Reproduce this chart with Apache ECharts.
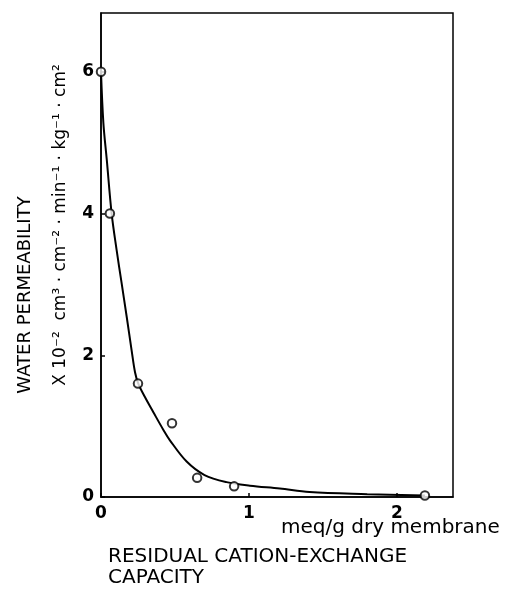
<!DOCTYPE html>
<html><head><meta charset="utf-8">
<script src="https://cdn.jsdelivr.net/npm/echarts@6/dist/echarts.min.js"></script>
<style>html,body{margin:0;padding:0;background:#fff}#c{width:510px;height:594px}</style>
</head><body><div id="c"></div>
<script>
// measured points (residual cation-exchange capacity, water permeability x10^-2)
const pointsX = [0, 0.06, 0.25, 0.48, 0.65, 0.90, 2.19];
const pointsY = [6.0, 4.0, 1.6, 1.04, 0.27, 0.15, 0.02];
// fitted curve
const curveX = [0, 0.016, 0.039, 0.072, 0.106, 0.140, 0.174, 0.207, 0.23, 0.252, 0.297, 0.353, 0.421, 0.466, 0.579, 0.70, 0.849, 1.007, 1.209, 1.41, 1.80, 2.19];
const curveY = [6.0, 5.28, 4.76, 4.00, 3.48, 3.01, 2.54, 2.07, 1.76, 1.60, 1.41, 1.20, 0.95, 0.80, 0.50, 0.31, 0.21, 0.16, 0.12, 0.07, 0.04, 0.02];
const xTicks = [0, 1, 2];
const yTicks = [0, 2, 4, 6];

const chart = echarts.init(document.getElementById('c'));
const font = 'DejaVu Sans';
chart.setOption({
  animation: false,
  backgroundColor: '#fff',
  grid: { left: 101, right: 57, top: 13, bottom: 97, show: true, borderColor: '#000', borderWidth: 1.5, backgroundColor: 'transparent' },
  xAxis: {
    type: 'value', min: 0, max: 2.38, interval: 1,
    axisLine: { lineStyle: { color: '#000', width: 1.5 } },
    axisTick: { inside: true, length: 4, lineStyle: { color: '#000', width: 1.5 } },
    splitLine: { show: false },
    axisLabel: { showMaxLabel: false, margin: 8, color: '#000', fontFamily: font, fontSize: 17, fontWeight: 'bold',
      formatter: v => xTicks.includes(v) ? String(v) : '' }
  },
  yAxis: {
    type: 'value', min: 0, max: 6.83, interval: 2,
    axisLine: { lineStyle: { color: '#000', width: 1.5 } },
    axisTick: { inside: true, length: 4, lineStyle: { color: '#000', width: 1.5 } },
    splitLine: { show: false },
    axisLabel: { showMaxLabel: false, margin: 7, color: '#000', fontFamily: font, fontSize: 17, fontWeight: 'bold',
      formatter: v => yTicks.includes(v) ? String(v) : '' }
  },
  series: [
    { type: 'line', data: curveX.map((x, i) => [x, curveY[i]]), smooth: 0.35, showSymbol: false,
      lineStyle: { color: '#000', width: 2 }, z: 2 },
    { type: 'scatter', data: pointsX.map((x, i) => [x, pointsY[i]]), symbol: 'circle', symbolSize: 8.5,
      itemStyle: { color: '#fff', borderColor: '#000', borderWidth: 2 }, z: 3 }
  ],
  graphic: [
    { type: 'text', x: 25, y: 295, rotation: Math.PI / 2,
      style: { text: 'WATER PERMEABILITY', fontFamily: font, fontSize: 18, fill: '#000', align: 'center', verticalAlign: 'middle' } },
    { type: 'text', x: 61, y: 225, rotation: Math.PI / 2,
      style: { text: 'X 10\u207B\u00B2  cm\u00B3 \u00B7 cm\u207B\u00B2 \u00B7 min\u207B\u00B9 \u00B7 kg\u207B\u00B9 \u00B7 cm\u00B2', fontFamily: font, fontSize: 17, fill: '#000', align: 'center', verticalAlign: 'middle' } },
    { type: 'text', x: 281, y: 528,
      style: { text: 'meq/g dry membrane', fontFamily: font, fontSize: 20, fill: '#000', align: 'left', verticalAlign: 'middle' } },
    { type: 'text', x: 108, y: 557,
      style: { text: 'RESIDUAL CATION-EXCHANGE', fontFamily: font, fontSize: 20, fill: '#000', align: 'left', verticalAlign: 'middle' } },
    { type: 'text', x: 108, y: 578,
      style: { text: 'CAPACITY', fontFamily: font, fontSize: 20, fill: '#000', align: 'left', verticalAlign: 'middle' } }
  ]
});
</script></body></html>
